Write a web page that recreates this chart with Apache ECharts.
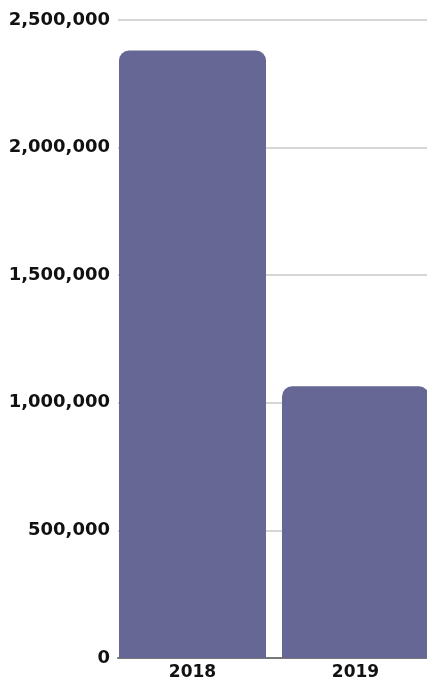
<!DOCTYPE html>
<html>
<head>
<meta charset="utf-8">
<style>
  html, body { margin: 0; padding: 0; background: #ffffff; }
  #chart { width: 427px; height: 679px; }
</style>
<script src="https://cdn.jsdelivr.net/npm/echarts@6/dist/echarts.min.js"></script>
</head>
<body>
<div id="chart"></div>
<script>
// Yearly totals
const years = ['2018', '2019'];
const totals = [2380000, 1065000];

// Value axis settings
const yMin = 0;
const yMax = 2500000;
const yStep = 500000;

const FONT = '"DejaVu Sans", sans-serif';
const BAR_COLOR = '#676796';

const chart = echarts.init(document.getElementById('chart'), null, { renderer: 'canvas' });

const fmt = v => Number(v).toLocaleString('en-US');

chart.setOption({
  animation: false,
  backgroundColor: '#ffffff',
  grid: [
    // frame grid: value labels, gridlines and baseline
    { left: 118, right: 0, top: 20, bottom: 21, containLabel: false, outerBoundsMode: 'none' },
    // bar grid, running past the right edge so the last bar is cut off
    { left: 111, width: 326, top: 20, bottom: 21, containLabel: false, outerBoundsMode: 'none' }
  ],
  xAxis: [
    {
      gridIndex: 0, type: 'value', min: 0, max: 1,
      axisLine: { show: true, lineStyle: { color: '#777777', width: 2 } },
      axisTick: { show: false }, axisLabel: { show: false }, splitLine: { show: false }
    },
    {
      gridIndex: 1, type: 'category', data: years,
      axisLine: { show: false }, axisTick: { show: false },
      axisLabel: {
        color: '#111111', fontFamily: FONT, fontWeight: 'bold', fontSize: 17, margin: 6
      }
    }
  ],
  yAxis: [
    {
      gridIndex: 0, type: 'value', min: yMin, max: yMax, interval: yStep,
      axisLine: { show: false }, axisTick: { show: false },
      axisLabel: {
        color: '#111111', fontFamily: FONT, fontWeight: 'bold', fontSize: 18, margin: 8,
        formatter: fmt
      },
      splitLine: { show: true, lineStyle: { color: '#c8c8c8', width: 1.5 } }
    },
    {
      gridIndex: 1, type: 'value', min: yMin, max: yMax, interval: yStep,
      axisLine: { show: false }, axisTick: { show: false },
      axisLabel: { show: false }, splitLine: { show: false }
    }
  ],
  series: [
    {
      type: 'bar',
      xAxisIndex: 1,
      yAxisIndex: 1,
      data: totals,
      barWidth: 147,
      itemStyle: { color: BAR_COLOR, borderRadius: [10, 10, 0, 0] }
    }
  ]
});
</script>
</body>
</html>
